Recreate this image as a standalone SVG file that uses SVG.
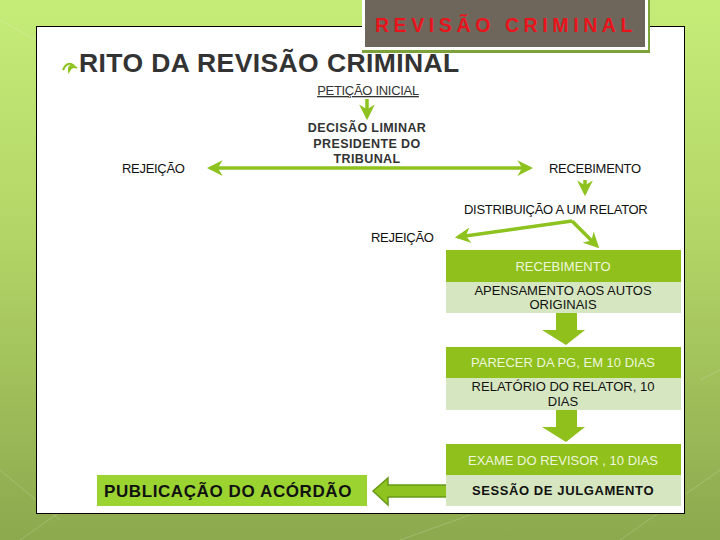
<svg xmlns="http://www.w3.org/2000/svg" width="720" height="540" viewBox="0 0 720 540">
<defs>
<linearGradient id="bg" x1="0" y1="0" x2="0" y2="1">
<stop offset="0" stop-color="#c6ec78"/>
<stop offset="0.45" stop-color="#b2d466"/>
<stop offset="1" stop-color="#8ca94e"/>
</linearGradient>
<marker id="ah" viewBox="0 0 10 10" refX="8" refY="5" markerWidth="4.5" markerHeight="4.5" orient="auto-start-reverse" markerUnits="strokeWidth">
<path d="M0,0 L10,5 L0,10 L3,5 Z" fill="#8dc21f"/>
</marker>
<style>
.t{font-family:"Liberation Sans",Arial,sans-serif;}
.lbl{font-size:13px;fill:#111;letter-spacing:-0.3px;}
.ln{stroke:#8dc21f;stroke-width:3.5;fill:none;}
.gb{fill:#8fc01c;}
.lb{fill:#d5e6c0;}
.gt{font-size:13px;fill:#eef6dc;text-anchor:middle;}
.lt{font-size:13px;fill:#111;text-anchor:middle;}
.blk{fill:#8fc01c;}
</style>
</defs>
<rect width="720" height="540" fill="url(#bg)"/>
<g stroke="#ffffff" stroke-opacity="0.18" stroke-width="1" fill="none">
<path d="M0,470 L60,520 M20,540 L120,470 M400,540 L470,515 M620,540 L720,470 M700,380 L720,370 M0,20 L36,40"/>
</g>
<rect x="36.5" y="26.5" width="648" height="487" fill="#ffffff" stroke="#000" stroke-width="1"/>
<g id="title">
<rect x="362" y="-5" width="288" height="58" fill="#7da23a"/>
<rect x="362" y="-5" width="286" height="55" fill="#ffffff"/>
<rect x="365" y="-5" width="280" height="52" fill="#6f665b"/>
<text x="506" y="32" class="t" font-size="19.5" font-weight="bold" fill="#e8141c" text-anchor="middle" letter-spacing="4.6">REVISÃO CRIMINAL</text>
</g>
<g id="heading">
<path d="M63,70 q4,-9 10,-5 q-5,1 -4,6 q3,-6 8,-3" fill="none" stroke="#8dc21f" stroke-width="2"/>
<text x="79" y="72" class="t" font-size="26.5" font-weight="bold" fill="#333" letter-spacing="0.4">RITO DA REVISÃO CRIMINAL</text>
</g>
<g id="connectors">
<line x1="367" y1="99" x2="367" y2="117" class="ln" marker-end="url(#ah)"/>
<line x1="210" y1="168" x2="530" y2="168" class="ln" marker-start="url(#ah)" marker-end="url(#ah)"/>
<line x1="585" y1="180" x2="585" y2="193" class="ln" marker-end="url(#ah)"/>
<line x1="572" y1="221" x2="458" y2="237" class="ln" marker-end="url(#ah)"/>
<line x1="572" y1="221" x2="597" y2="246" class="ln" marker-end="url(#ah)"/>
<path d="M556,313 H577 V330 H585 L566,345 L542,330 H556 Z" class="blk"/>
<path d="M556,410 H577 V427 H585 L566,442 L542,427 H556 Z" class="blk"/>
<path d="M452,485 V497 H388 V505 L373,491 L388,478 V485 Z" fill="#8fc31f" stroke="#6a9a1a" stroke-width="1.5"/>
</g>
<g id="peticao">
<text x="368" y="95" class="t lbl" text-anchor="middle" text-decoration="underline" style="fill:#333">PETIÇÃO INICIAL</text>
</g>
<g id="decisao" class="t" font-size="12.5" font-weight="bold" fill="#333" text-anchor="middle" letter-spacing="0.4">
<text x="367" y="132">DECISÃO LIMINAR</text>
<text x="367" y="148">PRESIDENTE DO</text>
<text x="367" y="163">TRIBUNAL</text>
</g>
<g id="rejeicao1"><text x="122" y="173" class="t lbl">REJEIÇÃO</text></g>
<g id="recebimento1"><text x="549" y="173" class="t lbl">RECEBIMENTO</text></g>
<g id="distribuicao"><text x="464" y="214" class="t lbl">DISTRIBUIÇÃO A UM RELATOR</text></g>
<g id="rejeicao2"><text x="371" y="242" class="t lbl">REJEIÇÃO</text></g>
<g id="recebimento2">
<rect x="446" y="250" width="235" height="32" class="gb"/>
<text x="563" y="271" class="t gt">RECEBIMENTO</text>
</g>
<g id="apensamento">
<rect x="446" y="282" width="235" height="31" class="lb"/>
<text x="563" y="295" class="t lt">APENSAMENTO AOS AUTOS</text>
<text x="563" y="309" class="t lt">ORIGINAIS</text>
</g>
<g id="parecer">
<rect x="446" y="347" width="235" height="31" class="gb"/>
<text x="563" y="367" class="t gt">PARECER DA PG, EM 10 DIAS</text>
</g>
<g id="relatorio">
<rect x="446" y="378" width="235" height="32" class="lb"/>
<text x="563" y="391" class="t lt">RELATÓRIO DO RELATOR, 10</text>
<text x="563" y="406" class="t lt">DIAS</text>
</g>
<g id="exame">
<rect x="446" y="444" width="235" height="31" class="gb"/>
<text x="563" y="465" class="t gt">EXAME DO REVISOR , 10 DIAS</text>
</g>
<g id="sessao">
<rect x="446" y="475" width="235" height="31" class="lb"/>
<text x="563" y="495" class="t" font-size="13" font-weight="bold" fill="#111" text-anchor="middle" letter-spacing="0.6">SESSÃO DE JULGAMENTO</text>
</g>
<g id="publicacao">
<rect x="97" y="475" width="270" height="31" fill="#9bd431"/>
<text x="228" y="497" class="t" font-size="17" font-weight="bold" fill="#111" text-anchor="middle" letter-spacing="0.6">PUBLICAÇÃO DO ACÓRDÃO</text>
</g>
</svg>
